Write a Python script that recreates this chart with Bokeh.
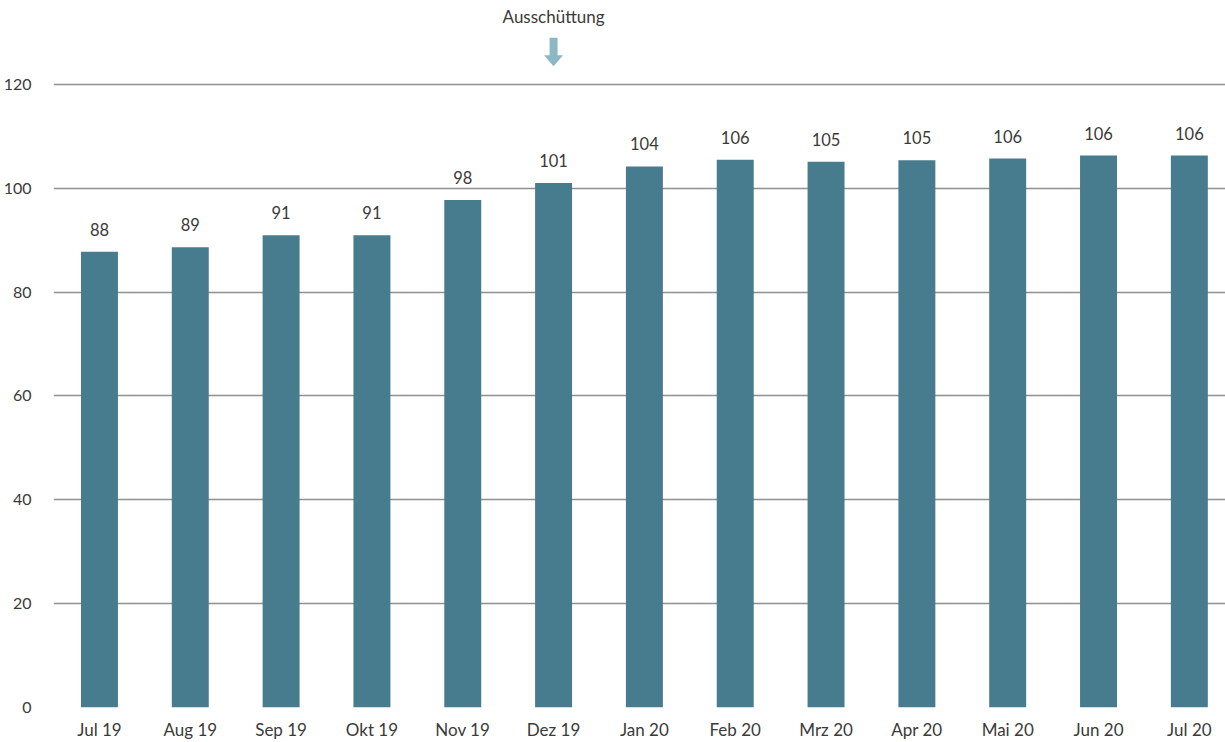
from bokeh.plotting import figure
from bokeh.models import Range1d, FixedTicker, ColumnDataSource
from bokeh.core.properties import value
from bokeh.embed import file_html
from bokeh.resources import INLINE

categories = ["Jul 19", "Aug 19", "Sep 19", "Okt 19", "Nov 19", "Dez 19",
              "Jan 20", "Feb 20", "Mrz 20", "Apr 20", "Mai 20", "Jun 20", "Jul 20"]
values = [87.75, 88.65, 90.95, 90.95, 97.75, 101.0,
          104.2, 105.5, 105.1, 105.4, 105.7, 106.3, 106.3]
labels = ["88", "89", "91", "91", "98", "101",
          "104", "106", "105", "105", "106", "106", "106"]
y_ticks = [0, 20, 40, 60, 80, 100, 120]
event_label = "Ausschüttung"
event_category = "Dez 19"

FONT = "Lato"
TEXT = "#3a3a3a"
BAR = "#477C8E"
ARROW = "#8BB7C6"

idx = list(range(len(categories)))
src = ColumnDataSource(dict(x=idx, top=values, label=labels))

p = figure(width=1225, height=742, output_backend="svg", toolbar_location=None,
           x_range=Range1d(-0.506, 12.398), y_range=Range1d(0, 136.15),
           min_border_left=52, min_border_right=0, min_border_top=0, min_border_bottom=34)
p.outline_line_color = None
p.background_fill_color = "white"
p.border_fill_color = "white"

p.vbar(x="x", top="top", bottom=0, width=0.407, source=src,
       fill_color=BAR, line_color=None)

p.text(x="x", y="top", text="label", source=src, text_align="center",
       text_baseline="bottom", y_offset=-16, text_font=value(FONT),
       text_font_size="16.5px", text_color=TEXT)

# event annotation (arrow + text) above the distribution month
ex = categories.index(event_category)
px_x = 1 / 90.9   # data units per pixel horizontally
stem_hw, head_hw = 4 * px_x, 9.5 * px_x
y_top, y_base, y_tip = 129.0, 125.6, 123.5
p.patch(x=[ex - stem_hw, ex + stem_hw, ex + stem_hw, ex + head_hw, ex, ex - head_hw, ex - stem_hw],
        y=[y_top, y_top, y_base, y_base, y_tip, y_base, y_base],
        fill_color=ARROW, line_color=None)
p.text(x=[ex], y=[133.0], text=[event_label], text_align="center", text_baseline="middle",
       text_font=value(FONT), text_font_size="17px", text_color=TEXT)

p.xgrid.grid_line_color = None
p.ygrid.ticker = FixedTicker(ticks=y_ticks)
p.ygrid.grid_line_color = "#8f8f8f"
p.ygrid.grid_line_width = 1.5

p.xaxis.ticker = FixedTicker(ticks=idx)
p.xaxis.major_label_overrides = {i: c for i, c in enumerate(categories)}
p.yaxis.ticker = FixedTicker(ticks=y_ticks)
for ax in (p.xaxis, p.yaxis):
    ax.axis_line_color = None
    ax.major_tick_line_color = None
    ax.minor_tick_line_color = None
    ax.major_label_text_font = FONT
    ax.major_label_text_color = TEXT
p.xaxis.major_label_text_font_size = "17px"
p.yaxis.major_label_text_font_size = "16px"
p.xaxis.major_label_standoff = 5
p.yaxis.major_label_standoff = 16

open("out.html", "w").write(file_html(p, INLINE))
